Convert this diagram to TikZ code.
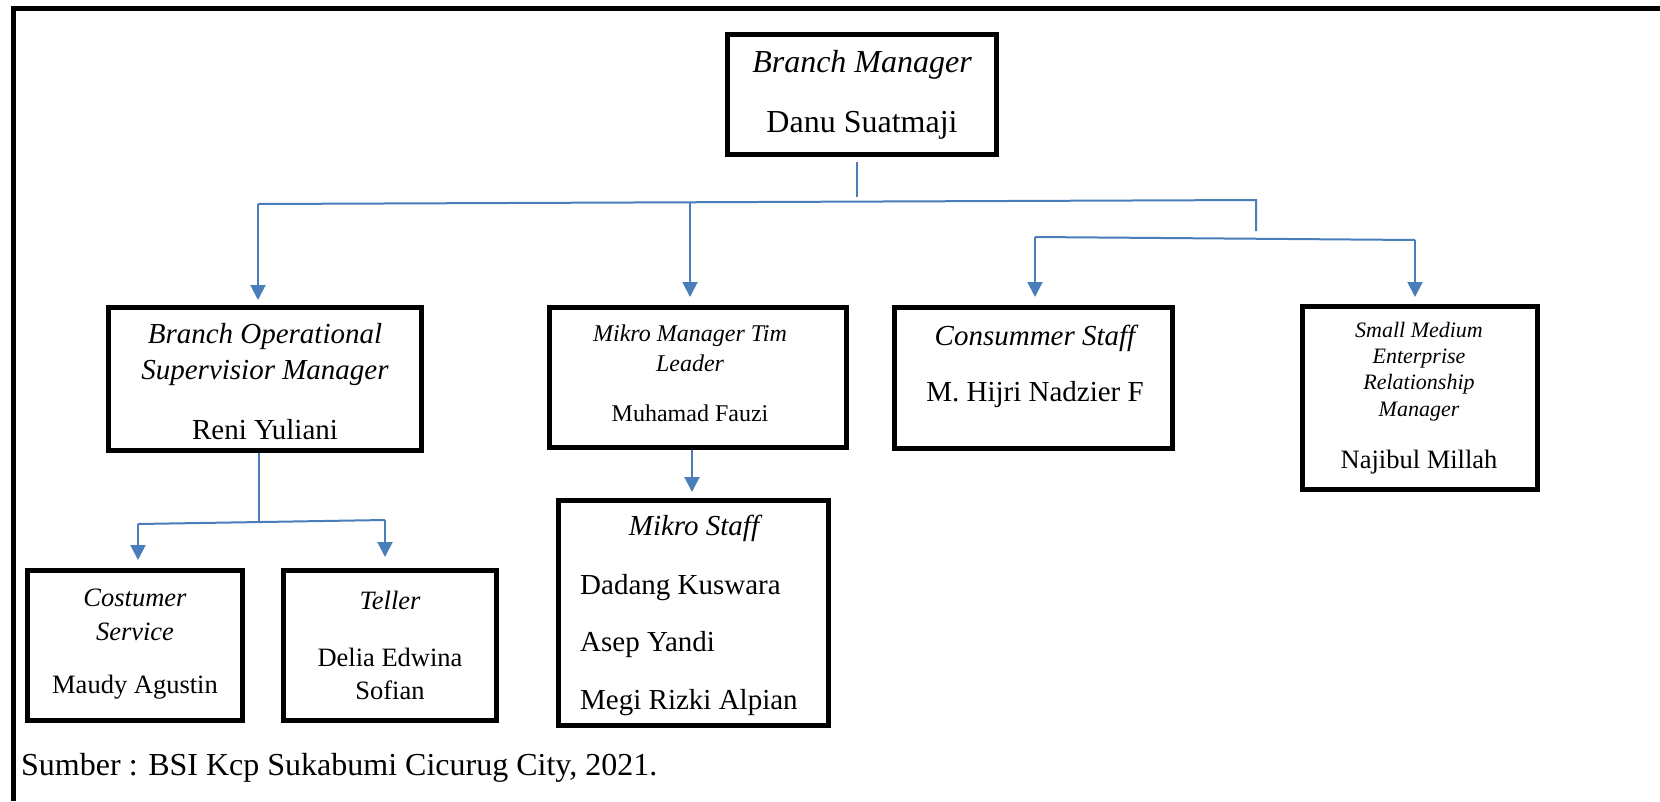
\documentclass[tikz,border=0pt]{standalone}
\usepackage{fontspec}
\setmainfont{Liberation Serif}
\usetikzlibrary{arrows.meta}
\definecolor{orgblue}{RGB}{74,126,187}

\begin{document}
\begin{tikzpicture}[x=1pt, y=-1pt, >={Triangle[length=15pt,width=15pt]}]
\tikzset{
  orgbox/.style={draw=black, line width=5pt, inner sep=0pt},
  role/.style n args={2}{font=\fontsize{#1}{#2}\selectfont\itshape, align=center, inner sep=0pt},
  person/.style n args={2}{font=\fontsize{#1}{#2}\selectfont, align=center, inner sep=0pt},
  link/.style={draw=orgblue, line width=2pt},
  arr/.style={link, ->},
}
\useasboundingbox (0,0) rectangle (1660,801);

% page frame
\draw[line width=5pt] (1660,8) -- (13,8) -- (13,801);

% boxes
\node[orgbox, minimum width=269pt, minimum height=120pt] (bm)     at (862,94.5)   {};
\node[orgbox, minimum width=313pt, minimum height=143pt] (bosm)   at (265,379)    {};
\node[orgbox, minimum width=297pt, minimum height=140pt] (mmtl)   at (698,377.5)  {};
\node[orgbox, minimum width=278pt, minimum height=141pt] (cons)   at (1033.5,378) {};
\node[orgbox, minimum width=235pt, minimum height=183pt] (sme)    at (1420,398)   {};
\node[orgbox, minimum width=215pt, minimum height=150pt] (cust)   at (135,645.5)  {};
\node[orgbox, minimum width=213pt, minimum height=150pt] (teller) at (390,645.5)  {};
\node[orgbox, minimum width=270pt, minimum height=225pt] (ms)     at (693.5,613)  {};

% texts
\node[role={32}{38}]   (bmt)  at (862,65)   {Branch Manager};
\node[person={32}{38}] (bmn)  at (862,125)  {Danu Suatmaji};
\node[role={29}{36}]   (bosmt) at (265,355) {Branch Operational\\Supervisior Manager};
\node[person={29}{36}] (bosmn) at (265,430) {Reni Yuliani};
\node[role={24}{30}]   (mmtlt) at (690,348) {Mikro Manager Tim\\Leader};
\node[person={24}{30}] (mmtln) at (690,413) {Muhamad Fauzi};
\node[role={29}{36}]   (const) at (1035,338) {Consummer Staff};
\node[person={29}{36}] (consn) at (1035,395) {M. Hijri Nadzier F};
\node[role={22}{26.3}] (smet)  at (1419,371.5) {Small Medium\\Enterprise\\Relationship\\Manager};
\node[person={26.5}{32}] (smen) at (1419,462) {Najibul Millah};
\node[role={26.5}{34}] (custt) at (135,615) {Costumer\\Service};
\node[person={26.5}{34}] (custn) at (135,687) {Maudy Agustin};
\node[role={26.5}{33}] (tellert) at (390,600) {Teller};
\node[person={26.5}{33}] (tellern) at (390,673.5) {Delia Edwina\\Sofian};
\node[role={29}{36}]   (mst) at (694,528) {Mikro Staff};
\node[person={29}{57.5}, align=left, anchor=west] (msn) at (580,644.7) {Dadang Kuswara\\Asep Yandi\\Megi Rizki Alpian};
\node[person={32}{38}, anchor=west] (src) at (21,768) {Sumber : BSI Kcp Sukabumi Cicurug City, 2021.};

% first level connectors
\coordinate (bmdrop) at (857,197);
\coordinate (busL) at (258,204);
\coordinate (busM) at (690,202.7);
\coordinate (busR) at (1256,200);
\coordinate (busRd) at (1256,231);
\draw[link] ([yshift=-5pt]bmdrop |- bm.south) -- (bmdrop);
\draw[link] (busL) -- (busR) -- (busRd);
\draw[arr] (busL) -- ([yshift=5pt]busL |- bosm.north);
\draw[arr] (busM) -- ([yshift=8pt]busM |- mmtl.north);

% right branch
\coordinate (subL) at (1035,237);
\coordinate (subR) at (1415,240);
\draw[link] (subL) -- (subR);
\draw[arr] (subL) -- ([yshift=8pt]subL |- cons.north);
\draw[arr] (subR) -- ([yshift=7pt]subR |- sme.north);

% under branch operational
\coordinate (opsbus) at (259,522);
\coordinate (opsL) at (138,524);
\coordinate (opsR) at (385,520);
\draw[link] (opsbus |- bosm.south) -- (opsbus);
\draw[link] (opsL) -- (opsR);
\draw[arr] (opsL) -- ([yshift=8pt]opsL |- cust.north);
\draw[arr] (opsR) -- ([yshift=11pt]opsR |- teller.north);

% mikro manager to staff
\coordinate (mmdrop) at (692,452);
\draw[arr] (mmdrop |- mmtl.south) -- ([yshift=6pt]mmdrop |- ms.north);

\end{tikzpicture}
\end{document}
